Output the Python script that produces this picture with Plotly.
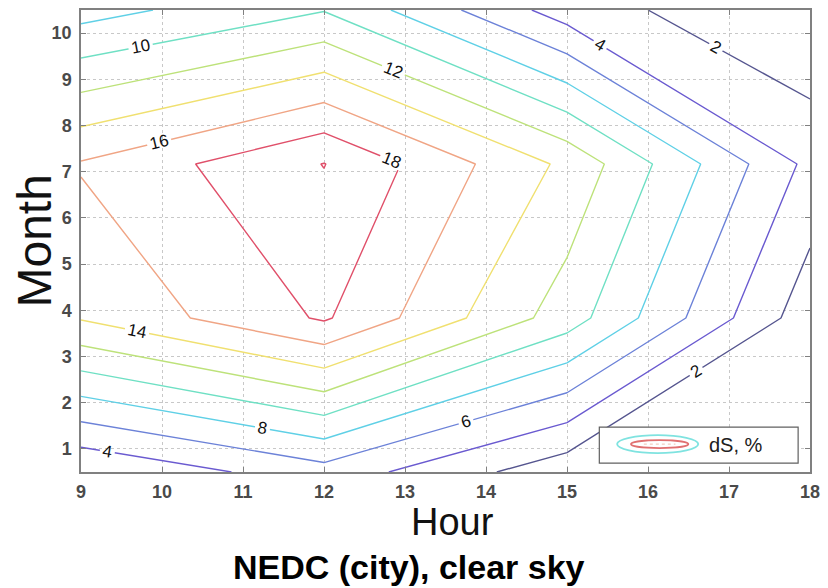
import plotly.graph_objects as go

# ---- data ----
hours = [9, 12, 15, 18]
months = [0.5, 3.833, 7.167, 10.5]
dS_row_m05 = [2.05, 5.2, 0.7, 0.0]
dS_row_m38 = [14.16, 18.25, 11.0, 0.78]
dS_row_m72 = [16.17, 20.05, 13.55, 3.46]
dS_row_m105 = [7.2, 9.9, 3.0, 0.0]
dS = [dS_row_m05, dS_row_m38, dS_row_m72, dS_row_m105]

levels = [2, 4, 6, 8, 10, 12, 14, 16, 18]
level_colors = ["#55558f", "#6a5ad0", "#6c82d8", "#5fd0e6", "#6fe0c4",
                "#bde27a", "#f0e070", "#f0a585", "#e0506a"]
x_ticks = [9, 10, 11, 12, 13, 14, 15, 16, 17, 18]
y_ticks = [1, 2, 3, 4, 5, 6, 7, 8, 9, 10]

W, H = 828, 588
L, R, T, B = 81, 10, 8, 116
PW, PH = W - L - R, H - T - B


def px(xp):
    return (xp - L) / PW


def py(yp):
    return (H - B - yp) / PH


colorscale = [[(lv - levels[0]) / (levels[-1] - levels[0]), c] for lv, c in zip(levels, level_colors)]

fig = go.Figure()
fig.add_trace(go.Contour(
    x=hours, y=months, z=dS,
    zmin=2, zmax=18, zauto=False,
    colorscale=colorscale, showscale=False,
    contours=dict(start=2, end=20, size=2, coloring="lines", showlabels=True,
                  labelfont=dict(size=17, color="#111111", family="Liberation Sans"),
                  labelformat="d"),
    line=dict(width=1.4, smoothing=0),
    hoverinfo="skip",
))

axis_common = dict(showline=True, linecolor="#808080", linewidth=1.5, mirror="ticks",
                   ticks="inside", ticklen=5, tickcolor="#808080",
                   showgrid=True, gridcolor="#c8c8c8", griddash="dot", gridwidth=1,
                   zeroline=False, ticklabeloverflow="allow",
                   tickfont=dict(family="Liberation Sans", size=18, color="#4a4a4a", weight="bold"))

fig.update_xaxes(range=[9, 18], tickvals=x_ticks, ticklabelstandoff=3, **axis_common)
fig.update_yaxes(range=[0.5, 10.5], tickvals=y_ticks, ticklabelstandoff=4, **axis_common)

shapes = [
    dict(type="rect", xref="paper", yref="paper", x0=px(605), x1=px(806), y0=py(463), y1=py(427),
         line=dict(color="#606060", width=1.2), fillcolor="white"),
    dict(type="circle", xref="paper", yref="paper", x0=px(623), x1=px(705), y0=py(453), y1=py(435),
         line=dict(color="#7fe3e0", width=1.8)),
    dict(type="circle", xref="paper", yref="paper", x0=px(637), x1=px(695), y0=py(448), y1=py(440),
         line=dict(color="#e07070", width=1.8)),
    dict(type="line", xref="paper", yref="paper", x0=px(650), x1=px(682), y0=py(444), y1=py(444),
         line=dict(color="#f0c0b0", width=1, dash="dot")),
]

annotations = [
    dict(text="dS, %", xref="paper", yref="paper", x=px(714), y=py(445), xanchor="left", yanchor="middle",
         showarrow=False, font=dict(family="Liberation Sans", size=20, color="#202020")),
    dict(text="Hour", xref="paper", yref="paper", x=px(457), y=py(522), xanchor="center", yanchor="middle",
         showarrow=False, font=dict(family="Liberation Sans", size=38, color="#111111")),
    dict(text="Month", xref="paper", yref="paper", x=px(33), y=py(240), xanchor="center", yanchor="middle",
         textangle=-90, showarrow=False, font=dict(family="Liberation Sans", size=48, color="#111111")),
    dict(text="<b>NEDC (city), clear sky</b>", xref="paper", yref="paper", x=px(413), y=py(567),
         xanchor="center", yanchor="middle", showarrow=False,
         font=dict(family="Liberation Sans", size=34, color="#000000")),
]

fig.update_layout(width=W, height=H, margin=dict(l=L, r=R, t=T, b=B),
                  paper_bgcolor="white", plot_bgcolor="white",
                  shapes=shapes, annotations=annotations, showlegend=False)

fig.write_html("out.html")
